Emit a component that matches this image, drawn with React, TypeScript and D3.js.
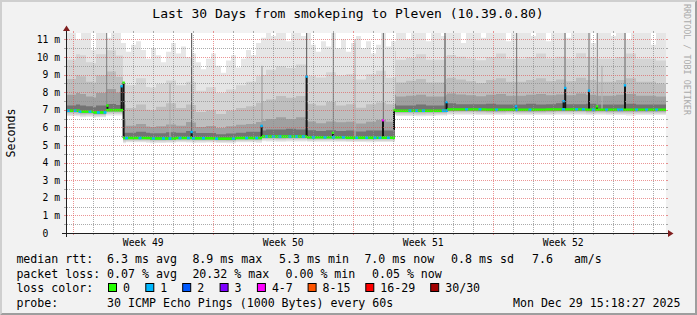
import React from 'react';
import * as d3 from 'd3';

// ---------------- data ----------------
const titleText = 'Last 30 Days from smokeping to Pleven (10.39.0.80)';
const endStamp = Date.UTC(2025, 11, 29, 15, 18, 27); // Mon Dec 29 15:18:27 2025
const spanDays = 30;
const yMaxMs = 11.364;
const yLabelMs = [0, 1, 2, 3, 4, 5, 6, 7, 8, 9, 10, 11];

// median rtt (ms) as steps: start day (days since graph start) -> value
const medianDay = [0, 0.7, 1.35, 2.0, 2.85, 4.2, 5.5, 6.3, 7.5, 8.5, 9.8, 12.05, 14.0, 16.45, 19.05, 21.0, 24.0, 26.0];
const medianMs = [6.95, 6.9, 6.85, 6.98, 5.4, 5.37, 5.4, 5.38, 5.36, 5.4, 5.48, 5.44, 5.42, 6.95, 7.02, 7.0, 7.02, 7.0];

// smoke: spread below median (ms), 60 bins of 12 h
const smokeBelow = [0.3, 0.32, 0.3, 0.28, 0.3, 0.3, 0.25, 0.25, 0.27, 0.25, 0.24, 0.25, 0.26, 0.25, 0.24, 0.25, 0.26, 0.25, 0.25, 0.27, 0.28, 0.3, 0.28, 0.28, 0.26, 0.25, 0.25, 0.26, 0.25, 0.25, 0.26, 0.25, 0.25,
  0.3, 0.3, 0.32, 0.3, 0.28, 0.3, 0.3, 0.3, 0.32, 0.3, 0.3, 0.28, 0.3, 0.3, 0.3, 0.32, 0.3, 0.3, 0.3, 0.3, 0.28, 0.3, 0.3, 0.32, 0.3, 0.3, 0.3];
// smoke: spreads above median (ms), 60 bins of 12 h, inner (dark) to outer
const smokeInner = [0.3, 0.35, 0.3, 0.4, 0.35, 0.3, 0.3, 0.35, 0.3, 0.3, 0.35, 0.3, 0.4, 0.3, 0.3, 0.25, 0.3, 0.3, 0.35, 0.35, 0.4, 0.4, 0.45, 0.4, 0.4, 0.35, 0.4, 0.35, 0.4, 0.35, 0.4, 0.4, 0.4,
  0.3, 0.3, 0.35, 0.3, 0.3, 0.35, 0.3, 0.3, 0.3, 0.35, 0.3, 0.3, 0.3, 0.35, 0.3, 0.3, 0.35, 0.3, 0.3, 0.35, 0.3, 0.3, 0.3, 0.35, 0.3, 0.3, 0.3];
const smokeMid = [0.9, 1.0, 0.85, 1.1, 1.2, 1.0, 0.7, 0.8, 0.65, 0.7, 0.8, 0.7, 0.9, 0.65, 0.7, 0.6, 0.7, 0.75, 0.8, 0.9, 1.0, 1.1, 1.0, 1.1, 0.9, 0.8, 0.9, 0.85, 0.9, 0.8, 0.9, 1.0, 0.9,
  0.8, 0.85, 0.9, 0.8, 0.8, 0.9, 0.85, 0.8, 0.75, 0.85, 0.9, 0.8, 0.8, 0.85, 0.9, 0.8, 0.85, 0.8, 0.9, 0.85, 0.8, 0.8, 0.85, 0.9, 0.8, 0.8, 0.75];
const smokeOuter = [1.8, 2.0, 1.7, 2.1, 2.2, 1.9, 1.7, 1.9, 1.6, 1.8, 2.0, 1.7, 1.9, 1.5, 1.6, 1.4, 1.6, 1.7, 1.8, 2.0, 2.1, 2.3, 2.2, 2.3, 1.9, 1.8, 2.0, 1.8, 1.9, 1.7, 1.9, 2.0, 1.9,
  1.6, 1.7, 1.8, 1.6, 1.6, 1.8, 1.7, 1.6, 1.5, 1.7, 1.8, 1.6, 1.6, 1.7, 1.8, 1.6, 1.7, 1.6, 1.8, 1.7, 1.6, 1.6, 1.7, 1.8, 1.6, 1.6, 1.5];
const smokeWide = [2.9, 3.2, 2.8, 3.3, 3.4, 3.1, 3.0, 3.4, 2.9, 3.1, 3.3, 3.0, 3.2, 2.7, 2.9, 2.6, 2.8, 3.0, 3.2, 3.5, 3.8, 4.0, 3.9, 4.1, 3.5, 3.4, 3.7, 3.5, 3.6, 3.3, 3.6, 3.8, 3.4,
  2.9, 3.0, 3.2, 2.9, 2.9, 3.1, 3.0, 2.9, 2.8, 3.0, 3.2, 2.9, 2.9, 3.0, 3.2, 2.9, 3.0, 2.9, 3.2, 3.0, 2.9, 2.9, 3.0, 3.2, 2.9, 2.9, 2.8];
// smoke: top of the lightest smoke (ms, absolute), 120 bins of 6 h
const smokeTop = [
  11.4, 11.4, 11.0, 11.4, 11.4, 10.4, 11.4, 11.4, 11.1, 11.4, 11.4, 10.8,
  10.3, 10.7, 10.9, 10.4, 9.9, 10.5, 10.1, 9.7, 10.3, 10.8, 10.2, 10.6, 10.0, 10.2,
  9.7, 9.3, 9.9, 10.2, 9.5, 9.1, 9.8, 10.1, 9.4, 9.9, 10.4, 10.1, 10.8, 11.1,
  11.4, 11.2, 11.4, 11.4, 10.9, 11.4, 11.4, 11.2,
  11.4, 10.7, 10.3, 10.9, 10.6, 11.4, 10.5, 11.0, 10.3, 10.8, 11.2, 10.5, 10.9, 10.2, 10.7, 11.4, 10.6, 10.9,
  11.4, 11.4, 11.0, 11.4, 11.4, 11.4, 10.9, 11.4, 11.4, 11.2, 11.4, 11.4, 11.4, 10.8, 11.4, 11.4, 11.4, 11.1, 11.4, 11.4,
  11.4, 11.4, 10.9, 11.4, 11.4, 11.4, 11.4, 11.2, 11.4, 11.4, 10.9, 11.4, 11.4, 11.4, 11.1, 11.4, 11.4, 11.4, 11.4, 10.8,
  11.4, 11.4, 11.4, 11.2, 11.4, 11.4, 11.0, 11.4, 11.4, 11.4, 11.4, 10.7, 11.4, 11.4];

// thin smoke streaks: day, top (ms), gray level
const streakDay = [2.03, 5.2, 6.28, 9.8, 12.03, 13.37, 14.45, 15.87, 18.95, 22.53, 24.95, 26.15, 26.57, 26.8, 27.95];
const streakTop = [11.4, 8.5, 11.4, 9.5, 11.4, 11.4, 11.0, 11.4, 11.4, 11.4, 11.4, 11.4, 11.4, 9.5, 11.4];
const streakGray = [140, 175, 100, 160, 110, 130, 180, 120, 90, 130, 120, 130, 150, 180, 120];

// dense (black) spikes: day, low, high (ms), loss class of the median dot
const spikeDay = [2.07, 2.78, 2.88, 6.28, 9.78, 12.03, 13.35, 15.85, 16.4, 19.03, 22.5, 24.88, 24.96, 26.15, 26.55, 27.95];
const spikeLow = [6.95, 6.95, 5.4, 5.4, 5.45, 5.45, 5.42, 5.4, 5.85, 7.0, 7.0, 7.0, 7.0, 7.0, 7.0, 7.0];
const spikeHigh = [7.25, 8.35, 8.55, 5.75, 6.1, 8.9, 5.7, 6.42, 7.0, 7.45, 7.2, 7.5, 8.25, 8.1, 7.2, 8.4];
const spikeLoss = [0, 1, 0, 1, 1, 1, 0, 4, 0, 1, 1, 1, 1, 1, 0, 1];

// moments with 1/30 loss on the median line
const loss1Day = [0.12, 0.45, 0.7, 1.2, 1.62, 1.95, 3.03, 3.7, 4.37, 4.87, 5.2, 5.7, 6.12, 6.37, 6.87, 7.53, 8.37, 9.03, 9.53, 10.03, 10.37, 10.7, 11.2, 11.53, 11.87,
  12.37, 12.95, 13.37, 13.87, 14.53, 15.03, 15.45, 15.7, 16.12, 17.2, 17.53, 17.87, 18.87, 19.03, 20.03, 20.7, 21.53, 22.53, 23.2, 24.87, 25.53, 25.87, 26.37,
  27.03, 27.62, 27.78, 28.53, 29.03, 29.53];

const lossLabels = ['0', '1', '2', '3', '4-7', '8-15', '16-29', '30/30'];
const lossColors = ['#26ff00', '#00b8ff', '#0059ff', '#7e00ff', '#ff00ff', '#ff5500', '#ff0000', '#a00000'];

const rttStats = ['6.3 ms avg', '8.9 ms max', '5.3 ms min', '7.0 ms now', '0.8 ms sd', '7.6   am/s'];
const lossStats = ['0.07 % avg', '20.32 % max', '0.00 % min', '0.05 % now'];
const probeText = '30 ICMP Echo Pings (1000 Bytes) every 60s';
const stampText = 'Mon Dec 29 15:18:27 2025';

// ---------------- layout ----------------
const W = 697, H = 315;
const X0 = 66, X1 = 666, Y0 = 233, Y1 = 33;
const MONO = "'DejaVu Sans Mono', monospace";
const rttX = [107.1, 192.4, 279.1, 364.4, 451.1, 532];
const lossX = [107.1, 192.4, 285.5, 372];
const legendBoxX = [108, 145.3, 182.2, 219.6, 256.9, 307.6, 365.3, 430.2];
const smokeColors = ['#e6e6e6', '#d4d4d4', '#bebebe', '#a0a0a0', '#737373'];
const belowFactor = [1, 0.75, 0.5, 0.3, 0.15];

const DAY = 86400000;
const nb = (s: string) => s.replace(/ /g, '\u00a0');

export default function App() {
  const start = endStamp - spanDays * DAY;
  const x = d3.scaleUtc().domain([new Date(start), new Date(endStamp)]).range([X0, X1]);
  const y = d3.scaleLinear().domain([0, yMaxMs]).range([Y0, Y1]);
  const xd = (day: number) => x(new Date(start + day * DAY));

  const medAt = (day: number) => medianMs[Math.max(0, d3.bisectRight(medianDay, day) - 1)];
  const binOf = (arr: number[], day: number) => arr[Math.min(arr.length - 1, Math.floor(day / (spanDays / arr.length)))];

  const nCols = 600;
  const cols = d3.range(nCols + 1);
  const colDay = (k: number) => (Math.min(k, nCols - 1) * spanDays) / nCols;

  const bandPath = (lo: (d: number) => number, hi: (d: number) => number) =>
    d3.area<number>()
      .x((k) => xd((k * spanDays) / nCols))
      .y0((k) => y(lo(colDay(k))))
      .y1((k) => y(hi(colDay(k))))
      .curve(d3.curveStepAfter)(cols) || '';

  const topAt = (d: number) => Math.min(binOf(smokeTop, d), yMaxMs);
  const spreads = [null, smokeWide, smokeOuter, smokeMid, smokeInner];
  const bands = smokeColors.map((c, i) => {
    const lo = (d: number) => medAt(d) - binOf(smokeBelow, d) * belowFactor[i];
    const hi = (d: number) => {
      const arr = spreads[i];
      if (!arr) return Math.max(topAt(d), medAt(d));
      return Math.max(medAt(d), Math.min(medAt(d) + binOf(arr, d), topAt(d)));
    };
    return <path key={i} d={bandPath(lo, hi)} fill={c} />;
  });

  // grid
  const minorDays = d3.utcDay.range(new Date(start), new Date(endStamp)).filter((t) => t.getUTCDay() !== 0);
  const majorDays = d3.utcSunday.range(new Date(start), new Date(endStamp));
  const weekFmt = d3.utcFormat('Week %V');
  const labelTimes = d3.utcSunday
    .range(new Date(start - 7 * DAY), new Date(endStamp))
    .map((t) => new Date(t.getTime() + 3.5 * DAY))
    .filter((t) => t.getTime() >= start && t.getTime() <= endStamp - 3.5 * DAY);
  const minorMs = d3.range(0.5, yMaxMs, 0.5).filter((v) => Math.abs(v - Math.round(v)) > 0.01);
  const majorMs = yLabelMs.filter((v) => v > 0);

  const GRID = 'rgba(143,143,143,0.75)';
  const MGRID = 'rgba(222,79,79,0.6)';

  const vLine = (t: Date, col: string, key: string) => {
    const xx = Math.round(x(t)) + 0.5;
    return (
      <g key={key}>
        <line x1={xx} x2={xx} y1={Y1 - 2} y2={Y1} stroke={col} />
        <line x1={xx} x2={xx} y1={Y0} y2={Y0 + 2} stroke={col} />
        <line x1={xx} x2={xx} y1={Y0 - 1} y2={Y1 + 1} stroke={col} strokeDasharray="1,1" />
      </g>
    );
  };
  const hLine = (v: number, col: string, key: string) => {
    const yy = Math.round(y(v)) + 0.5;
    return (
      <g key={key}>
        <line x1={X0 - 2} x2={X0} y1={yy} y2={yy} stroke={col} />
        <line x1={X1} x2={X1 + 2} y1={yy} y2={yy} stroke={col} />
        <line x1={X0 + 1} x2={X1 - 1} y1={yy} y2={yy} stroke={col} strokeDasharray="1,1" />
      </g>
    );
  };

  const medianSegs = medianDay.map((d, i) => {
    const d2 = i + 1 < medianDay.length ? medianDay[i + 1] : spanDays;
    const yy = y(medianMs[i]);
    return <line key={i} x1={xd(d)} x2={xd(d2)} y1={yy} y2={yy} stroke={lossColors[0]} strokeWidth={2.6} />;
  });

  const rowY = [263, 277.5, 292, 306.5];

  return (
    <svg width={W} height={H} viewBox={`0 0 ${W} ${H}`} style={{ position: 'absolute', left: 0, top: 0 }}
      fontFamily={MONO}>
      <rect x={0} y={0} width={W} height={H} fill="#f2f2f2" />
      <polygon points={`0,${H} 2,${H - 2} 2,2 ${W - 2},2 ${W},0 0,0`} fill="#cfcfcf" />
      <polygon points={`2,${H - 2} ${W - 2},${H - 2} ${W - 2},2 ${W},0 ${W},${H} 0,${H}`} fill="#9e9e9e" />
      <rect x={X0} y={Y1} width={X1 - X0} height={Y0 - Y1} fill="#ffffff" />
      <defs>
        <clipPath id="cv">
          <rect x={X0} y={Y1} width={X1 - X0} height={Y0 - Y1} />
        </clipPath>
      </defs>
      <g clipPath="url(#cv)">
        {bands}
        {streakDay.map((d, i) => (
          <rect key={'s' + i} x={xd(d) - 0.6} width={1.2} y={y(Math.min(streakTop[i], yMaxMs))}
            height={y(medAt(d)) - y(Math.min(streakTop[i], yMaxMs))}
            fill={`rgb(${streakGray[i]},${streakGray[i]},${streakGray[i]})`} />
        ))}
        {spikeDay.map((d, i) => (
          <rect key={'k' + i} x={xd(d) - 1} width={2} y={y(spikeHigh[i])} height={y(spikeLow[i]) - y(spikeHigh[i])} fill="#151515" />
        ))}
        {medianSegs}
        {loss1Day.map((d, i) => (
          <rect key={'c' + i} x={xd(d) - 1.5} width={3} y={y(medAt(d)) - 1.3} height={2.6} fill={lossColors[1]} />
        ))}
        {spikeDay.map((d, i) => (
          <rect key={'p' + i} x={xd(d) - 1.2} width={2.4} y={y(spikeHigh[i]) - 1} height={2.4} fill={lossColors[spikeLoss[i]]} />
        ))}
      </g>

      {/* grid */}
      {minorMs.map((v, i) => hLine(v, GRID, 'hm' + i))}
      {minorDays.map((t, i) => vLine(t, GRID, 'vm' + i))}
      {majorMs.map((v, i) => hLine(v, MGRID, 'hM' + i))}
      {majorDays.map((t, i) => vLine(t, MGRID, 'vM' + i))}

      {/* axes */}
      <line x1={X0 - 4} x2={X1 + 4} y1={Y0 + 0.5} y2={Y0 + 0.5} stroke="#1f1f1f" />
      <line x1={X0 + 0.5} x2={X0 + 0.5} y1={Y0 + 4} y2={Y1 - 4} stroke="#1f1f1f" />
      <polygon points={`${X1 + 2},${Y0 - 3} ${X1 + 2},${Y0 + 4} ${X1 + 7.5},${Y0 + 0.5}`} fill="#801f1f" />
      <polygon points={`${X0 - 3},${Y1 - 2} ${X0 + 4},${Y1 - 2} ${X0 + 0.5},${Y1 - 7.5}`} fill="#801f1f" />

      {/* y labels */}
      {yLabelMs.map((v) => (
        <text key={'yl' + v} x={v === 0 ? 60 - 2 * 5.84 : 60} y={y(v) + 3.5} fontSize={9.7} textAnchor="end" fill="#000">
          {v === 0 ? '0' : `${v} m`}
        </text>
      ))}
      {/* x labels */}
      {labelTimes.map((t, i) => (
        <text key={'xl' + i} x={x(t)} y={245.5} fontSize={9.7} textAnchor="middle" fill="#000">{weekFmt(t)}</text>
      ))}

      {/* title, axis label, watermark */}
      <text x={348} y={17.5} fontSize={13} textAnchor="middle" fill="#000">{titleText}</text>
      <text transform="translate(15,133) rotate(-90)" fontSize={11.6} textAnchor="middle" fill="#000">Seconds</text>
      <text transform="translate(684,4) rotate(90)" fontSize={8.4} fill="#aaaaaa">RRDTOOL / TOBI OETIKER</text>

      {/* legend */}
      <g fontSize={11.6} fill="#000">
        <text x={16.4} y={rowY[0]}>median rtt:</text>
        {rttStats.map((s, i) => (<text key={'r' + i} x={rttX[i]} y={rowY[0]}>{nb(s)}</text>))}
        <text x={16.4} y={rowY[1]}>packet loss:</text>
        {lossStats.map((s, i) => (<text key={'l' + i} x={lossX[i]} y={rowY[1]}>{nb(s)}</text>))}
        <text x={16.4} y={rowY[2]}>loss color:</text>
        {lossLabels.map((s, i) => (
          <g key={'lc' + i}>
            <rect x={legendBoxX[i] + 0.5} y={rowY[2] - 8.5} width={8} height={8} fill={lossColors[i]} stroke="#000" strokeWidth={1} />
            <text x={legendBoxX[i] + 15} y={rowY[2]}>{s}</text>
          </g>
        ))}
        <text x={16.4} y={rowY[3]}>probe:</text>
        <text x={107.1} y={rowY[3]}>{probeText}</text>
        <text x={680.5} y={rowY[3]} textAnchor="end">{stampText}</text>
      </g>
    </svg>
  );
}
